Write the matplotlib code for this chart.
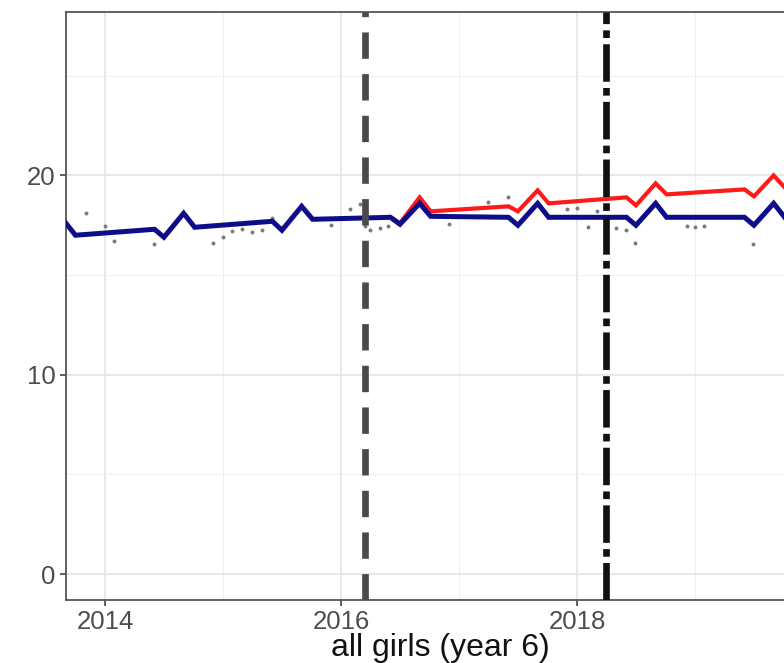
import matplotlib
matplotlib.use("Agg")
import matplotlib.pyplot as plt

plt.rcParams['font.family'] = ['Liberation Sans', 'DejaVu Sans']
plt.rcParams['lines.scale_dashes'] = False

# fitted / counterfactual series (decimal years)
blue_x = [2013.67, 2013.75, 2014.42, 2014.5, 2014.667, 2014.76,
          2015.42, 2015.5, 2015.667, 2015.76, 2016.42, 2016.5, 2016.667, 2016.76,
          2017.42, 2017.5, 2017.667, 2017.76, 2018.42, 2018.5, 2018.667, 2018.76,
          2019.42, 2019.5, 2019.667, 2019.76]
blue_y = [17.6, 17.0, 17.3, 16.9, 18.1, 17.4,
          17.7, 17.25, 18.45, 17.8, 17.9, 17.55, 18.6, 17.95,
          17.9, 17.5, 18.6, 17.9, 17.9, 17.5, 18.6, 17.9,
          17.9, 17.5, 18.6, 17.9]

red_x = [2016.42, 2016.5, 2016.667, 2016.76, 2017.42, 2017.5, 2017.667, 2017.76,
         2018.42, 2018.5, 2018.667, 2018.76, 2019.42, 2019.5, 2019.667, 2019.76]
red_y = [17.9, 17.6, 18.9, 18.2, 18.45, 18.2, 19.25, 18.6,
         18.9, 18.5, 19.6, 19.05, 19.3, 18.95, 20.0, 19.4]

# observed points
pts_x = [2013.84, 2014.0, 2014.08, 2014.42, 2014.92, 2015.0, 2015.08, 2015.16,
         2015.25, 2015.33, 2015.42, 2015.92, 2016.08, 2016.16, 2016.2, 2016.25,
         2016.33, 2016.4, 2016.92, 2017.25, 2017.42, 2017.92, 2018.0, 2018.09,
         2018.17, 2018.25, 2018.33, 2018.42, 2018.49, 2018.93, 2019.0, 2019.08, 2019.49]
pts_y = [18.1, 17.45, 16.7, 16.55, 16.6, 16.9, 17.2, 17.3,
         17.15, 17.25, 17.85, 17.5, 18.3, 18.55, 17.45, 17.25,
         17.35, 17.45, 17.55, 18.65, 18.9, 18.3, 18.35, 17.4,
         18.2, 17.4, 17.35, 17.25, 16.6, 17.45, 17.4, 17.45, 16.55]

interv1 = 2016.2
interv2 = 2018.25

W, H = 784, 663
fig = plt.figure(figsize=(W / 100, H / 100), dpi=100)
px_per_year = 118.0
x0 = 2013.67
x1 = 2020.01
left, right_px = 66, 66 + (x1 - x0) * px_per_year
ax = fig.add_axes([left / W, 63 / H, (right_px - left) / W, 588 / H])

ax.plot(red_x, red_y, color='#ff1a1a', lw=3.0, zorder=3, solid_joinstyle='miter')
ax.plot(blue_x, blue_y, color='#0d0d8a', lw=3.6, zorder=4, solid_joinstyle='miter')
ax.scatter(pts_x, pts_y, s=8, color='#7a7a7a', zorder=2, linewidths=0)

ax.axvline(interv1, color='#4a4a4a', lw=4.8, dashes=(19, 11), zorder=5)
ax.axvline(interv2, color='#111111', lw=4.8, dashes=(27, 4.5, 5.5, 4.5), zorder=5)

ax.set_xlim(x0, x1)
ax.set_ylim(-1.3, 28.2)
ax.set_xticks([2014, 2016, 2018])
ax.set_xticks([2015, 2017, 2019], minor=True)
ax.set_yticks([0, 10, 20])
ax.set_yticks([5, 15, 25], minor=True)
ax.grid(which='major', color='#e6e6e6', lw=1.3)
ax.grid(which='minor', color='#f0f0f0', lw=0.8)
ax.set_axisbelow(True)

for s in ax.spines.values():
    s.set_color('#555555')
    s.set_linewidth(1.3)

ax.tick_params(axis='both', which='major', length=4.5, width=1.2, color='#444444',
               labelsize=18.5, labelcolor='#4d4d4d', pad=3)
ax.tick_params(axis='both', which='minor', length=0)

# axis title, placed by hand so the descenders stay inside the figure
fig.text((left + right_px) / 2 / W, 7 / H, 'all girls (year 6)', fontsize=23,
         color='#111111', ha='center', va='baseline')

fig.savefig('out.png', dpi=100)
